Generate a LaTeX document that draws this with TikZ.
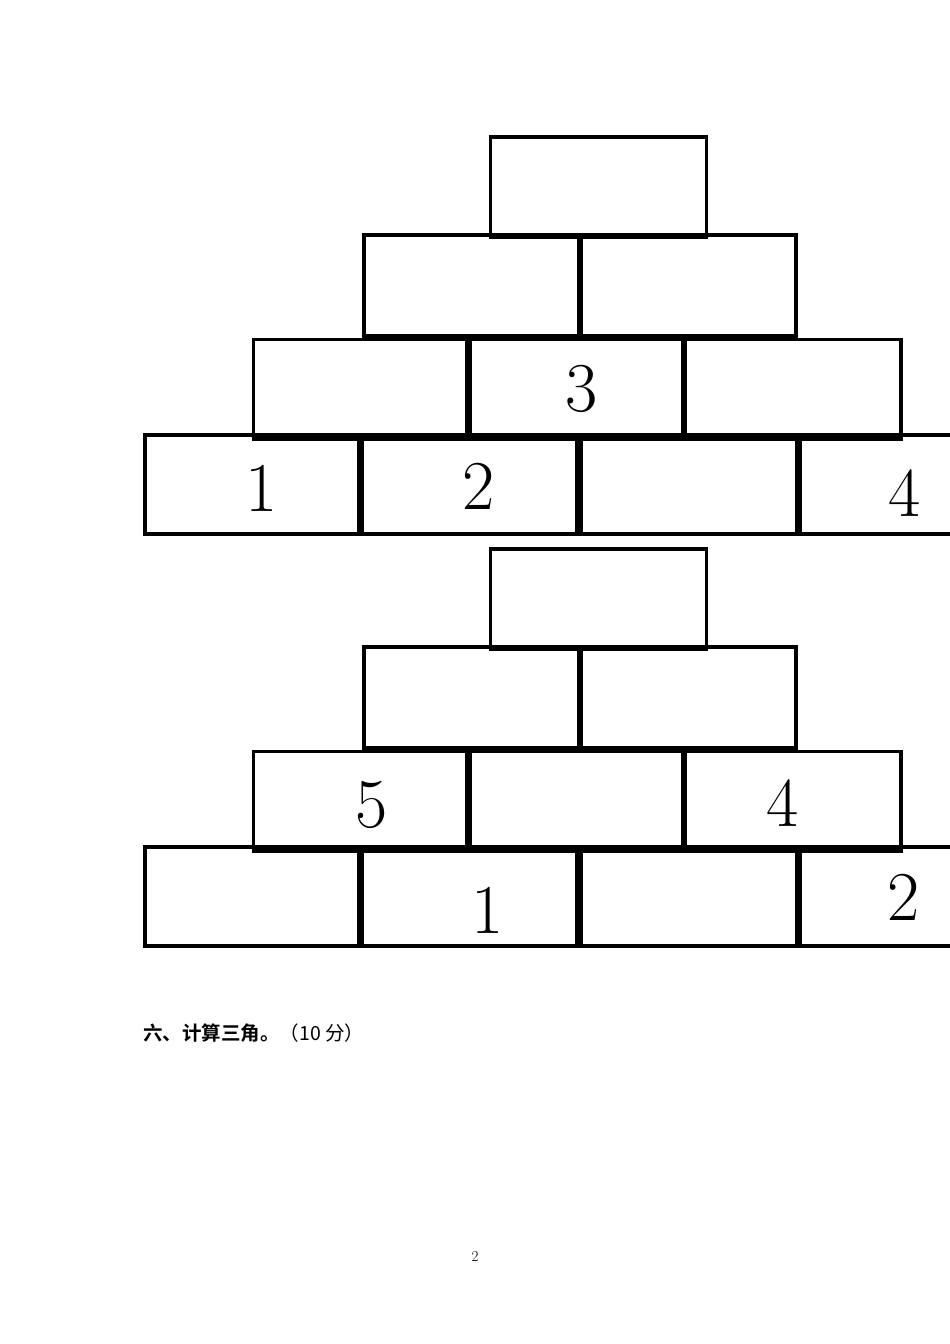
\documentclass[tikz,border=0pt]{standalone}
\usepackage{fontspec}
\newfontfamily\cjk[BoldFont=Noto Sans CJK SC Bold]{Noto Sans CJK SC}
\begin{document}
\begin{tikzpicture}[x=1pt,y=-1pt,
  brick/.style={draw=black, line width=3.5pt},
  num/.style={inner sep=0pt, font=\fontsize{70}{70}\selectfont}]
\useasboundingbox (0,0) rectangle (950,1344);
\clip (0,0) rectangle (950,1344);
\fill[white] (0,0) rectangle (950,1344);
\foreach \dy in {0,412} {
 \begin{scope}[yshift=-\dy pt]
  \draw[brick] (490.5,137) rectangle (706.5,237);
  \draw[brick] (364,235) rectangle (579,336);
  \draw[brick] (581.5,235) rectangle (796,336);
  \draw[brick] (253.5,339.5) rectangle (467,439);
  \draw[brick] (470,339.5) rectangle (683,439);
  \draw[brick] (685.5,339.5) rectangle (901,439);
  \draw[brick] (145,435) rectangle (359,534);
  \draw[brick] (362,435) rectangle (577,534);
  \draw[brick] (581,435) rectangle (797,534);
  \draw[brick] (800,435) rectangle (1016,534);
 \end{scope}
}
\node[num] (a3) at (582,389) {3};
\node[num] (a1) at (262,488) {1};
\node[num] (a2) at (479,486) {2};
\node[num] (a4) at (905,493) {4};
\node[num] (b5) at (372,805) {5};
\node[num] (b4) at (783,803) {4};
\node[num] (b1) at (488,910) {1};
\node[num] (b2) at (904,897) {2};
\node[anchor=west, inner sep=0pt, font=\cjk\fontsize{19.5}{19.5}\selectfont] (title) at (143,1033) {{\bfseries 六、计算三角。}（10 分）};
\node[inner sep=0pt, font=\fontsize{15}{15}\selectfont] (pg) at (475,1257) {2};
\end{tikzpicture}
\end{document}
